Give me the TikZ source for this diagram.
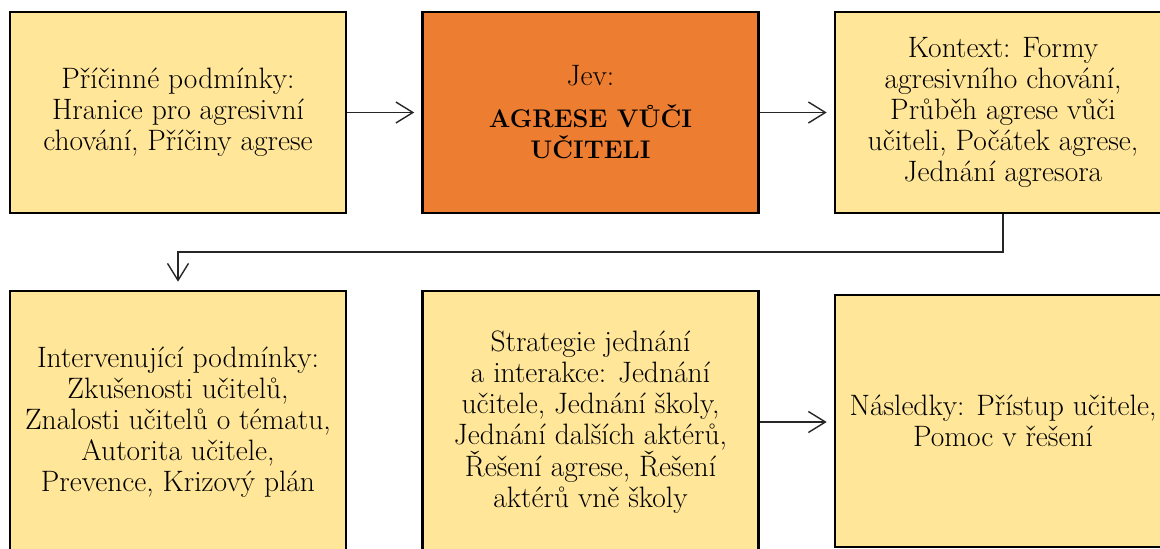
\documentclass[tikz,border=0pt]{standalone}
\usetikzlibrary{arrows.meta}
\definecolor{boxyellow}{HTML}{FFE699}
\definecolor{boxorange}{HTML}{ED7D31}
\tikzset{
  box/.style={draw=black, line width=2.6pt, fill=boxyellow, minimum width=336pt, inner sep=0pt, align=center, font=\fontsize{29.5}{31}\selectfont},
  conn/.style={draw=black!85, line width=1.4pt, -{Straight Barb[length=17pt, width=21pt, line width=1.4pt]}, shorten >=7pt}
}
\newcommand{\jevbold}[1]{{\fontsize{25.5}{31}\selectfont\bfseries #1}}
\begin{document}
\begin{tikzpicture}[x=1pt, y=-1pt]
\useasboundingbox (0,0) rectangle (1160,549);
\node[box, minimum height=201pt] (b1) at (178,112.5) {Příčinné podmínky:\\Hranice pro agresivní\\chování, Příčiny agrese};
\node[box, minimum height=201pt, fill=boxorange] (b2) at (590.5,112.5) {Jev:\\[11pt]\jevbold{AGRESE VŮČI}\\\jevbold{UČITELI}};
\node[box, minimum height=201pt] (b3) at (1003,112.5) {Kontext: Formy\\agresivního chování,\\Průběh agrese vůči\\učiteli, Počátek agrese,\\Jednání agresora};
\node[box, minimum height=262pt] (b4) at (178,422) {Intervenující podmínky:\\Zkušenosti učitelů,\\Znalosti učitelů o tématu,\\Autorita učitele,\\Prevence, Krizový plán};
\node[box, minimum height=262pt] (b5) at (590.5,422) {Strategie jednání\\a interakce: Jednání\\učitele, Jednání školy,\\Jednání dalších aktérů,\\Řešení agrese, Řešení\\aktérů vně školy};
\node[box, minimum height=252pt] (b6) at (1003,421) {Následky: Přístup učitele,\\Pomoc v řešení};
\coordinate (c1) at (1003,252);
\coordinate (c2) at (178,252);
\draw[conn] (b1.east) -- (b2.west);
\draw[conn] (b2.east) -- (b3.west);
\draw[conn, shorten >=8pt] (b3.south) -- (c1) -- (c2) -- (b4.north);
\draw[conn] (b5.east) -- (b5.east -| b6.west);
\end{tikzpicture}
\end{document}
